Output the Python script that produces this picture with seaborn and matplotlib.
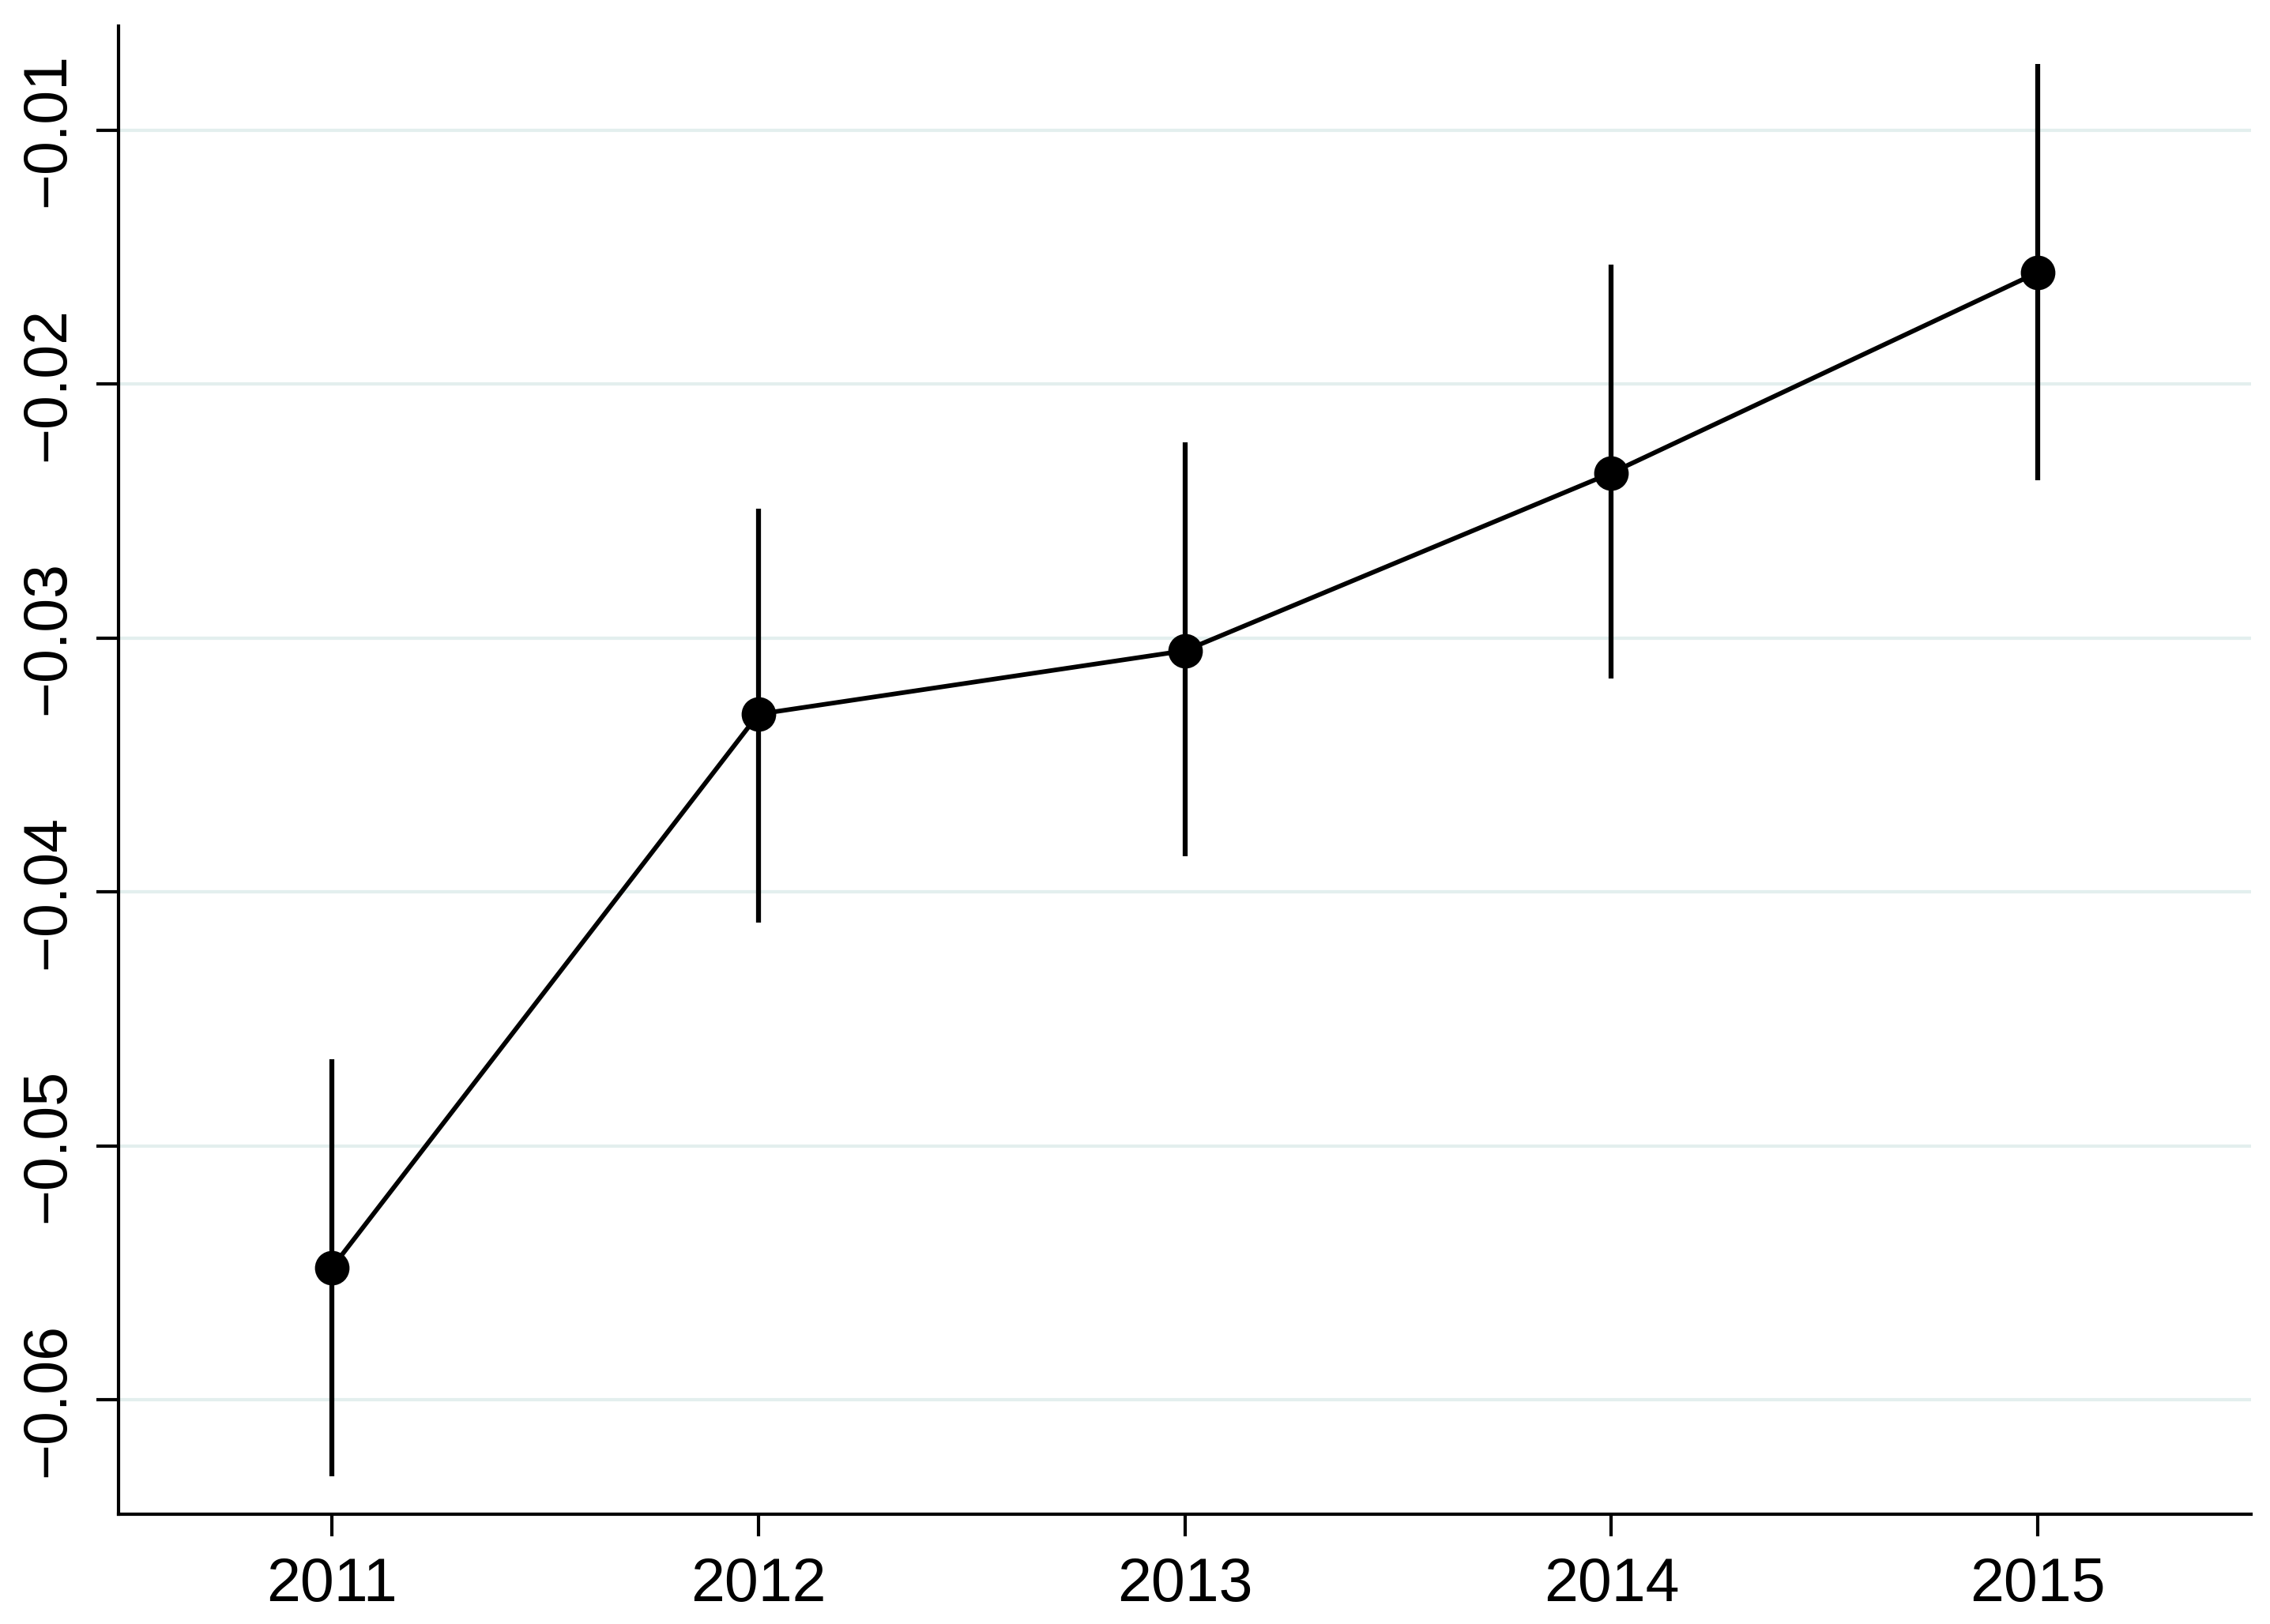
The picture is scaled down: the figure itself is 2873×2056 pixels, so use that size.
import numpy as np
import pandas as pd
import matplotlib
matplotlib.use("Agg")
import matplotlib.pyplot as plt
import seaborn as sns

years = [2011, 2012, 2013, 2014, 2015]
coef = [-0.0548, -0.0330, -0.0305, -0.0235, -0.0156]
ci_low = [-0.0630, -0.0412, -0.0386, -0.0316, -0.0238]
ci_high = [-0.0466, -0.0249, -0.0223, -0.0153, -0.0074]
y_ticks = [-0.06, -0.05, -0.04, -0.03, -0.02, -0.01]
y_tick_labels = ["\u22120.06", "\u22120.05", "\u22120.04", "\u22120.03", "\u22120.02", "\u22120.01"]

df = pd.DataFrame({"year": years, "coef": coef, "lo": ci_low, "hi": ci_high})

sns.set_style("white")
plt.rcParams["font.family"] = ["Liberation Sans", "DejaVu Sans"]

fig = plt.figure(figsize=(2873 / 300, 2056 / 300), dpi=300)
ax = fig.add_axes([0.0523, 0.0677, 0.9394, 0.9163])

ax.set_ylim(-0.0645, -0.0059)
ax.set_xlim(2010.5, 2015.5)

for t in y_ticks:
    ax.axhline(t, color="#e3efee", lw=1.0, zorder=0)

ax.vlines(df["year"], df["lo"], df["hi"], color="black", lw=1.5, zorder=2)
sns.lineplot(data=df, x="year", y="coef", color="black", lw=1.4,
             marker="o", markersize=10.5, markeredgewidth=0, ax=ax, zorder=3)

ax.set_xticks(years)
ax.set_xticklabels([str(y) for y in years], fontsize=18.5, color="black")
ax.set_yticks(y_ticks)
ax.set_yticklabels(y_tick_labels, fontsize=18.5, rotation=90, va="center", color="black")
ax.tick_params(axis="both", direction="out", length=6.8, width=1.0, color="black",
               bottom=True, left=True, pad=6)
ax.set_xlabel("")
ax.set_ylabel("")

sns.despine(ax=ax)
for s in ["left", "bottom"]:
    ax.spines[s].set_color("black")
    ax.spines[s].set_linewidth(1.0)

fig.savefig("out.png", dpi=300, facecolor="white")
